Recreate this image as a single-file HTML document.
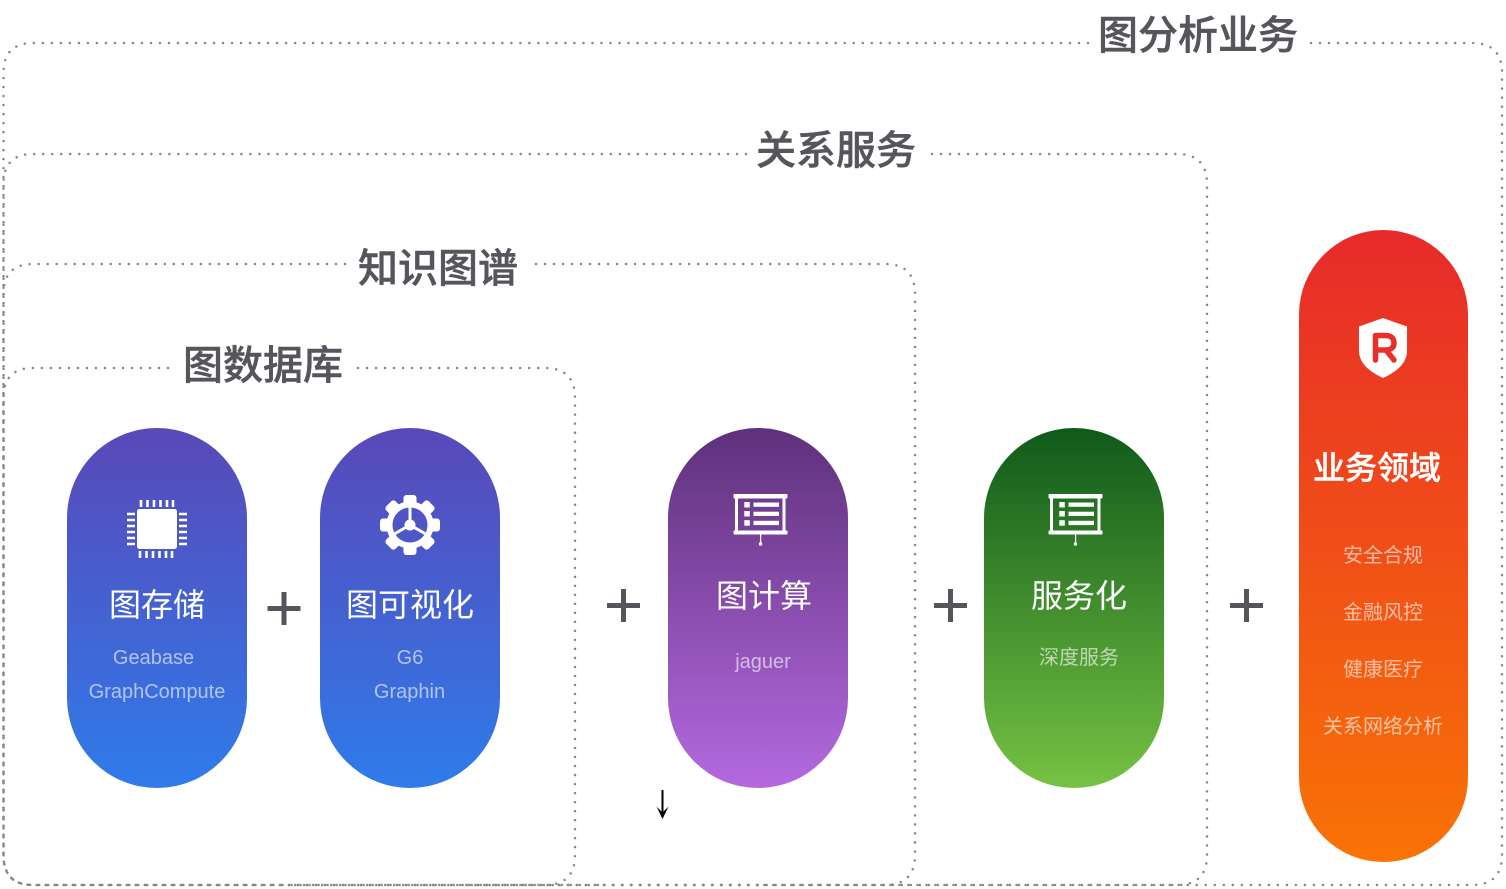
<!DOCTYPE html>
<html><head><meta charset="utf-8">
<style>
html,body{margin:0;padding:0;background:#fff;width:1506px;height:889px;overflow:hidden}
svg{display:block}
text{font-family:"Liberation Sans","Noto Sans CJK SC",sans-serif;text-anchor:middle}
.h{font-size:40px;fill:#54565c;stroke:#54565c;stroke-width:.5px;font-weight:500;font-family:"Noto Sans CJK SC",sans-serif}
.t{font-size:32px;fill:#fff;font-family:"Noto Sans CJK SC",sans-serif;font-weight:400}
.s{font-size:20px;fill:#fff;fill-opacity:.6}
.z{font-size:20px;fill:#fff;fill-opacity:.62;font-family:"Noto Sans CJK SC",sans-serif;font-weight:400}
.d{fill:none;stroke:#85878e;stroke-width:2.500;stroke-linecap:round;stroke-dasharray:.01 9}
.p{fill:#54565c}
</style></head><body>
<svg width="1506" height="889" viewBox="0 0 1506 889" xmlns="http://www.w3.org/2000/svg">
<defs>
<linearGradient id="b" x1="0" y1="0" x2="0" y2="1"><stop offset="0" stop-color="#5a48b8"/><stop offset="1" stop-color="#2f7bea"/></linearGradient>
<linearGradient id="v" x1="0" y1="0" x2="0" y2="1"><stop offset="0" stop-color="#5e317b"/><stop offset="1" stop-color="#b469df"/></linearGradient>
<linearGradient id="g" x1="0" y1="0" x2="0" y2="1"><stop offset="0" stop-color="#0f5a1a"/><stop offset="1" stop-color="#76c243"/></linearGradient>
<linearGradient id="r" x1="0" y1="0" x2="0" y2="1"><stop offset="0" stop-color="#e72a2a"/><stop offset="1" stop-color="#f97305"/></linearGradient>
<g id="screen">
<rect x="0" y="0" width="54" height="4.500" rx="1" fill="#fff"/>
<rect x="0" y="36.500" width="54" height="4" rx="1" fill="#fff"/>
<rect x="1.500" y="3" width="3" height="35" fill="#fff"/>
<rect x="49" y="3" width="3" height="35" fill="#fff"/>
<rect x="10.800" y="8" width="5.500" height="5.500" fill="#fff"/>
<rect x="10.800" y="17" width="5.500" height="5.500" fill="#fff"/>
<rect x="10.800" y="26.200" width="5.500" height="5.500" fill="#fff"/>
<rect x="20" y="8.500" width="25.500" height="4.300" fill="#fff"/>
<rect x="20" y="17.700" width="25.500" height="4.300" fill="#fff"/>
<rect x="20" y="26.800" width="25.500" height="4.300" fill="#fff"/>
<rect x="26.500" y="40" width="1.200" height="10" fill="#fff"/>
<circle cx="27" cy="50" r="1.700" fill="#fff"/>
</g>
</defs>

<!-- dotted frames -->
<path class="d" d="M1088 43H33Q3.500 43 3.500 73V855Q3.500 885 33 885H760"/>
<path class="d" d="M1311 43H1472Q1502 43 1502 73V855Q1502 885 1472 885H760"/>
<path class="d" d="M746 154H33Q3.500 154 3.500 184V855Q3.500 885 33 885H600"/>
<path class="d" d="M932 154H1177Q1207 154 1207 184V855Q1207 885 1177 885H600"/>
<path class="d" d="M345 264H33Q3.500 264 3.500 294V855Q3.500 885 33 885H460"/>
<path class="d" d="M536 264H885Q915 264 915 294V855Q915 885 885 885H460"/>
<path class="d" d="M168 368H33Q3.500 368 3.500 398V855Q3.500 885 33 885H290"/>
<path class="d" d="M358 368H545Q575 368 575 398V855Q575 885 545 885H290"/>

<!-- headings -->
<text class="h" x="1198" y="49">图分析业务</text>
<text class="h" x="836" y="164">关系服务</text>
<text class="h" x="438" y="282">知识图谱</text>
<text class="h" x="263" y="379">图数据库</text>

<!-- pills -->
<rect x="67" y="428" width="180" height="360" rx="90" fill="url(#b)"/>
<rect x="320" y="428" width="180" height="360" rx="90" fill="url(#b)"/>
<rect x="668" y="428" width="180" height="360" rx="90" fill="url(#v)"/>
<rect x="984" y="428" width="180" height="360" rx="90" fill="url(#g)"/>
<rect x="1299" y="230" width="169" height="632" rx="84.500" fill="url(#r)"/>

<!-- chip icon -->
<rect x="137" y="509" width="40" height="40" rx="2.500" fill="#fff"/>
<g stroke="#fff" stroke-width="2.600" fill="none">
<path d="M141 500v7M147.500 500v7M154 500v7M160.500 500v7M167 500v7M173 500v7"/>
<path d="M140 551v7M146.500 551v7M153 551v7M159.500 551v7M166 551v7M172 551v7"/>
<path d="M127 514h8M127 520h8M127 526h8M127 532h8M127 538h8M127 544h8"/>
<path d="M179 514h8M179 520h8M179 526h8M179 532h8M179 538h8M179 544h8"/>
</g>

<!-- gear icon -->
<g transform="translate(410 525)" fill="#fff">
<g><rect x="-6.500" y="-30" width="13" height="12" rx="3"/><rect x="-6.500" y="18" width="13" height="12" rx="3"/><rect x="-30" y="-6.500" width="12" height="13" rx="3"/><rect x="18" y="-6.500" width="12" height="13" rx="3"/>
<g transform="rotate(45)"><rect x="-6.500" y="-30" width="13" height="12" rx="3"/><rect x="-6.500" y="18" width="13" height="12" rx="3"/><rect x="-30" y="-6.500" width="12" height="13" rx="3"/><rect x="18" y="-6.500" width="12" height="13" rx="3"/></g></g>
<circle r="20.500" fill="none" stroke="#fff" stroke-width="6"/>
<circle r="5.500"/>
<path d="M0 0V-20M0 0L17.500 10M0 0L-17.500 10" stroke="#fff" stroke-width="3" fill="none"/>
</g>

<!-- screen icons -->
<use href="#screen" x="733.500" y="494"/>
<use href="#screen" x="1048.500" y="494"/>

<!-- shield -->
<path d="M1383 318L1407 326.500V351Q1407 367 1383 378Q1359 367 1359 351V326.500Z" fill="#fff"/>
<path d="M1375.500 360V335.500H1385Q1394 335.500 1394 343Q1394 350 1385 350H1375.500M1386 350L1394 360" fill="none" stroke="#e8302a" stroke-width="5.500" stroke-linecap="round" stroke-linejoin="round"/>

<!-- pill text -->
<text class="t" x="157" y="616">图存储</text>
<text class="s" x="153.500" y="664">Geabase</text>
<text class="s" x="157" y="698">GraphCompute</text>

<text class="t" x="410" y="616">图可视化</text>
<text class="s" x="410" y="664">G6</text>
<text class="s" x="409.500" y="698">Graphin</text>

<text class="t" x="764" y="607">图计算</text>
<text class="s" x="763" y="668">jaguer</text>

<text class="t" x="1079" y="607">服务化</text>
<text class="z" x="1079" y="664">深度服务</text>

<text x="1377" y="479" style="font-size:32px;fill:#fff;stroke:#fff;stroke-width:.4px;font-weight:500;font-family:'Noto Sans CJK SC',sans-serif">业务领域</text>
<text class="z" x="1383" y="562">安全合规</text>
<text class="z" x="1383" y="619">金融风控</text>
<text class="z" x="1383" y="676">健康医疗</text>
<text class="z" x="1383" y="733">关系网络分析</text>

<!-- plus signs -->
<path class="p" d="M281.500 592h5v14h14v5h-14v14h-5v-14h-14v-5h14z"/>
<path class="p" d="M621 589h5v14h14v5h-14v14h-5v-14h-14v-5h14z"/>
<path class="p" d="M948 589h5v14h14v5h-14v14h-5v-14h-14v-5h14z"/>
<path class="p" d="M1244 589h5v14h14v5h-14v14h-5v-14h-14v-5h14z"/>

<!-- arrow -->
<path d="M662.500 790V816" stroke="#000" stroke-width="2" fill="none"/>
<path d="M656.500 806.500L662.500 819L668.500 806.500L662.500 812.500Z" fill="#000"/>
</svg>
</body></html>
